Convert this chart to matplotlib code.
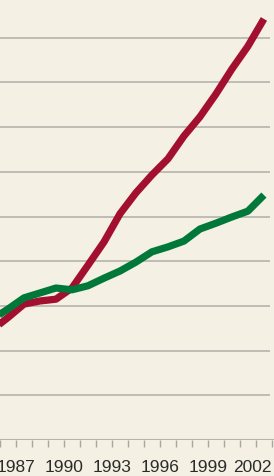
import matplotlib.pyplot as plt
import matplotlib.transforms as mtransforms

# data (mid-year points, index units: one gridline = 1)
years = [1985.5, 1986.5, 1987.5, 1988.5, 1989.5, 1990.5, 1991.5, 1992.5, 1993.5, 1994.5,
         1995.5, 1996.5, 1997.5, 1998.5, 1999.5, 2000.5, 2001.5, 2002.5]
red_vals = [2.46, 2.74, 3.04, 3.11, 3.15, 3.40, 3.91, 4.43, 5.06, 5.53,
            5.93, 6.29, 6.80, 7.23, 7.74, 8.30, 8.81, 9.42]
green_vals = [2.70, 2.93, 3.18, 3.29, 3.40, 3.36, 3.45, 3.62, 3.78, 3.98,
              4.21, 4.32, 4.45, 4.72, 4.85, 4.99, 5.12, 5.48]
tick_years = list(range(1986, 2004))
label_years = [1987, 1990, 1993, 1996, 1999, 2002]
grid_levels = [1, 2, 3, 4, 5, 6, 7, 8, 9]

bg = '#f4f0e3'
fig = plt.figure(figsize=(2.74, 4.77), dpi=100, facecolor=bg)
ax = fig.add_axes([0, 36 / 477, 1, 441 / 477])
ax.set_facecolor(bg)

# gridlines
ax.hlines(grid_levels, 1985.0, 2002.9, color='#b5b3ad', lw=1.2, zorder=1)
ax.axhline(0, color='#b5b3ad', lw=1.5, zorder=1)

ax.plot(years, red_vals, color='#a30f2e', lw=5.2, solid_capstyle='butt',
        solid_joinstyle='round', zorder=3)
ax.plot(years, green_vals, color='#00783a', lw=5.2, solid_capstyle='butt',
        solid_joinstyle='round', zorder=4)

ax.set_xlim(1986.22, 2003.13)
ax.set_ylim(0, 441 / 44.7)

for s in ax.spines.values():
    s.set_visible(False)
ax.set_yticks([])
ax.set_xticks(tick_years)
ax.set_xticklabels([str(y) if y in label_years else '' for y in tick_years],
                   family=['Liberation Sans', 'DejaVu Sans'], fontsize=12.5,
                   color='#2b2b2b')
ax.tick_params(axis='x', direction='out', length=5, width=1, color='#a8a6a0', pad=9)

# last label sits a little left so it fits inside the frame
last = ax.get_xticklabels()[tick_years.index(2002)]
last.set_transform(last.get_transform() +
                   mtransforms.ScaledTranslation(-4 / 100, 0, fig.dpi_scale_trans))

fig.savefig('out.png', dpi=100, facecolor=bg)
